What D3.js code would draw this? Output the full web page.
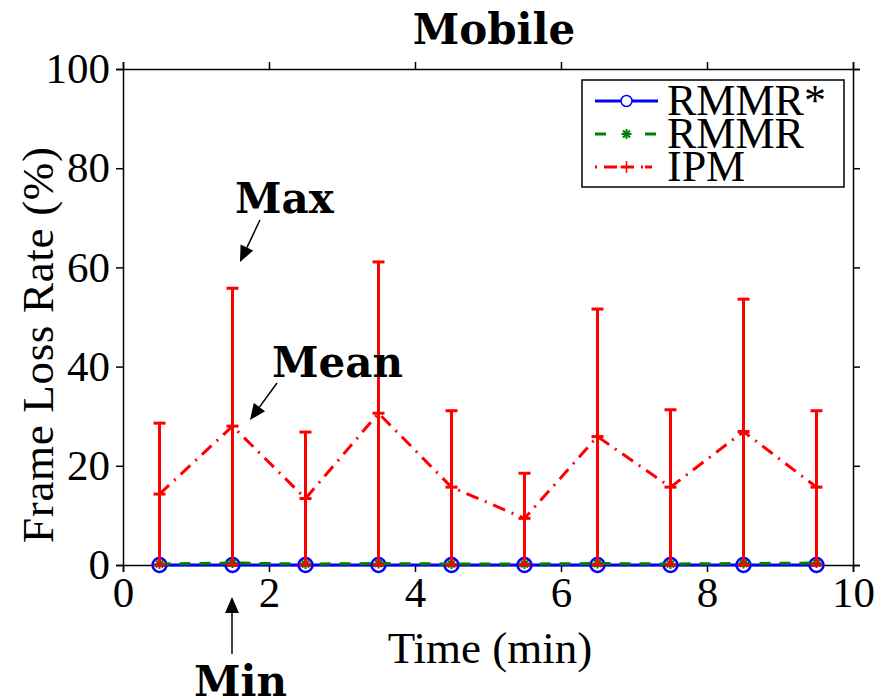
<!DOCTYPE html>
<html>
<head>
<meta charset="utf-8">
<script src="https://d3js.org/d3.v7.min.js"></script>
<style>
  body { margin: 0; background: #fff; }
  svg { display: block; }
  text { fill: #000; }
</style>
</head>
<body>
<div id="chart"></div>
<script>
// time slots (min)
var times = [0.5, 1.5, 2.5, 3.5, 4.5, 5.5, 6.5, 7.5, 8.5, 9.5];
// frame loss rate (%)
var rmmrStar = [0, 0, 0, 0, 0, 0, 0, 0, 0, 0];
var rmmr = [0.2, 0.4, 0.2, 0.3, 0.2, 0.2, 0.3, 0.2, 0.3, 0.4];
var ipmMean = [14.3, 28.0, 13.4, 30.6, 15.7, 9.4, 25.9, 15.7, 26.9, 15.7];
var ipmMax = [28.6, 55.8, 26.8, 61.1, 31.1, 18.5, 51.6, 31.3, 53.6, 31.1];
var ipmMin = [0, 0, 0, 0, 0, 0, 0, 0, 0, 0];
var xTicks = [0, 2, 4, 6, 8, 10];
var yTicks = [0, 20, 40, 60, 80, 100];
var seriesNames = ["RMMR*", "RMMR", "IPM"];

(function () {
  var W = 877, H = 699;
  var pLeft = 123, pRight = 853, pTop = 69, pBottom = 565;
  var serif = "'Liberation Serif', 'Times New Roman', serif";
  var slab = "'DejaVu Serif', serif";

  var svg = d3.select("#chart").append("svg")
    .attr("width", W).attr("height", H);

  var x = d3.scaleLinear().domain([0, 10]).range([pLeft, pRight]);
  var y = d3.scaleLinear().domain([0, 100]).range([pBottom, pTop]);

  // axes, box with outward ticks on all sides
  var axes = svg.append("g");
  axes.append("g").attr("transform", "translate(0," + pBottom + ")")
    .call(d3.axisBottom(x).tickValues(xTicks).tickSize(7).tickPadding(4));
  axes.append("g").attr("transform", "translate(0," + pTop + ")")
    .call(d3.axisTop(x).tickValues(xTicks).tickSize(7).tickFormat(""));
  axes.append("g").attr("transform", "translate(" + pLeft + ",0)")
    .call(d3.axisLeft(y).tickValues(yTicks).tickSize(7).tickPadding(6));
  axes.append("g").attr("transform", "translate(" + pRight + ",0)")
    .call(d3.axisRight(y).tickValues(yTicks).tickSize(7).tickFormat(""));
  axes.selectAll(".domain").attr("stroke", "#000").attr("stroke-width", 1.5);
  axes.selectAll(".tick line").attr("stroke", "#000").attr("stroke-width", 1.5);
  axes.selectAll(".tick text")
    .style("font-family", serif).style("font-size", "43px").attr("fill", "#000");

  svg.append("text")
    .attr("x", (pLeft + pRight) / 2 + 2).attr("y", 663)
    .attr("text-anchor", "middle")
    .style("font-family", serif).style("font-size", "45px")
    .text("Time (min)");

  svg.append("text")
    .attr("transform", "translate(53,345) rotate(-90)")
    .attr("text-anchor", "middle")
    .attr("textLength", 396).attr("lengthAdjust", "spacing")
    .style("font-family", serif).style("font-size", "45px")
    .text("Frame Loss Rate (%)");

  svg.append("text")
    .attr("x", 494).attr("y", 44)
    .attr("text-anchor", "middle")
    .style("font-family", slab).style("font-size", "42px").style("font-weight", "bold")
    .text("Mobile");

  var line = d3.line().x(function (d) { return x(d[0]); }).y(function (d) { return y(d[1]); });

  function asterisk(g, cx, cy, r, color) {
    for (var k = 0; k < 4; k++) {
      var a = k * Math.PI / 4;
      g.append("line")
        .attr("x1", cx - r * Math.cos(a)).attr("y1", cy - r * Math.sin(a))
        .attr("x2", cx + r * Math.cos(a)).attr("y2", cy + r * Math.sin(a))
        .attr("stroke", color).attr("stroke-width", 2);
    }
  }
  function plus(g, cx, cy, r, color, w) {
    g.append("line").attr("x1", cx - r).attr("x2", cx + r).attr("y1", cy).attr("y2", cy)
      .attr("stroke", color).attr("stroke-width", w);
    g.append("line").attr("x1", cx).attr("x2", cx).attr("y1", cy - r).attr("y2", cy + r)
      .attr("stroke", color).attr("stroke-width", w);
  }

  var plot = svg.append("g");

  // RMMR*
  plot.append("path")
    .datum(times.map(function (t, i) { return [t, rmmrStar[i]]; }))
    .attr("d", line).attr("fill", "none").attr("stroke", "#0000ff").attr("stroke-width", 3);
  plot.selectAll("circle.rs").data(times).enter().append("circle")
    .attr("cx", function (d) { return x(d); })
    .attr("cy", function (d, i) { return y(rmmrStar[i]); })
    .attr("r", 7).attr("fill", "none").attr("stroke", "#0000ff").attr("stroke-width", 2.5);

  // RMMR
  plot.append("path")
    .datum(times.map(function (t, i) { return [t, rmmr[i]]; }))
    .attr("d", line).attr("fill", "none").attr("stroke", "#007f00").attr("stroke-width", 3)
    .attr("stroke-dasharray", "11,9");
  times.forEach(function (t, i) { asterisk(plot, x(t), y(rmmr[i]), 5, "#007f00"); });

  // IPM
  plot.append("path")
    .datum(times.map(function (t, i) { return [t, ipmMean[i]]; }))
    .attr("d", line).attr("fill", "none").attr("stroke", "#ff0000").attr("stroke-width", 3)
    .attr("stroke-dasharray", "13,7,2,7");
  var eb = plot.append("g").attr("stroke", "#ff0000").attr("stroke-width", 3);
  times.forEach(function (t, i) {
    var cx = x(t);
    eb.append("line").attr("x1", cx).attr("x2", cx).attr("y1", y(ipmMin[i])).attr("y2", y(ipmMax[i]));
    eb.append("line").attr("x1", cx - 6).attr("x2", cx + 6).attr("y1", y(ipmMax[i])).attr("y2", y(ipmMax[i]));
    eb.append("line").attr("x1", cx - 6).attr("x2", cx + 6).attr("y1", y(ipmMin[i])).attr("y2", y(ipmMin[i]));
    plus(plot, cx, y(ipmMean[i]), 6, "#ff0000", 3);
  });

  // legend
  var lg = svg.append("g");
  lg.append("rect").attr("x", 582).attr("y", 80).attr("width", 262).attr("height", 107)
    .attr("fill", "#fff").attr("stroke", "#000").attr("stroke-width", 1.5);
  var rowsY = [101, 134, 167];
  var lx1 = 595, lx2 = 658, lmid = (lx1 + lx2) / 2;
  lg.append("line").attr("x1", lx1).attr("x2", lx2).attr("y1", rowsY[0]).attr("y2", rowsY[0])
    .attr("stroke", "#0000ff").attr("stroke-width", 3);
  lg.append("circle").attr("cx", lmid).attr("cy", rowsY[0]).attr("r", 5.5)
    .attr("fill", "#fff").attr("stroke", "#0000ff").attr("stroke-width", 1.5);
  lg.append("line").attr("x1", lx1).attr("x2", lx2).attr("y1", rowsY[1]).attr("y2", rowsY[1])
    .attr("stroke", "#007f00").attr("stroke-width", 3).attr("stroke-dasharray", "11,14");
  lg.append("rect").attr("x", lmid - 8).attr("y", rowsY[1] - 8).attr("width", 16).attr("height", 16).attr("fill", "#fff");
  asterisk(lg, lmid, rowsY[1], 5, "#007f00");
  lg.append("line").attr("x1", lx1).attr("x2", lx2).attr("y1", rowsY[2]).attr("y2", rowsY[2])
    .attr("stroke", "#ff0000").attr("stroke-width", 3).attr("stroke-dasharray", "2,7,13,4,13,7,2");
  plus(lg, lmid, rowsY[2], 6, "#ff0000", 1.5);
  seriesNames.forEach(function (n, i) {
    lg.append("text").attr("x", 667).attr("y", rowsY[i] + 14)
      .style("font-family", serif).style("font-size", "44px").text(n);
  });

  // annotations
  function arrow(x1, y1, x2, y2) {
    var a = Math.atan2(y2 - y1, x2 - x1), L = 16, hw = 7;
    var bx = x2 - L * Math.cos(a), by = y2 - L * Math.sin(a);
    svg.append("line").attr("x1", x1).attr("y1", y1).attr("x2", bx).attr("y2", by)
      .attr("stroke", "#000").attr("stroke-width", 1.5);
    svg.append("path").attr("fill", "#000").attr("d",
      "M" + x2 + "," + y2 +
      "L" + (bx + hw * Math.sin(a)) + "," + (by - hw * Math.cos(a)) +
      "L" + (bx - hw * Math.sin(a)) + "," + (by + hw * Math.cos(a)) + "Z");
  }
  function note(tx, ty, s) {
    svg.append("text").attr("x", tx).attr("y", ty)
      .style("font-family", slab).style("font-size", "42px").style("font-weight", "bold").text(s);
  }
  note(235, 213, "Max");
  arrow(260, 220, 240, 262);
  note(272, 377, "Mean");
  arrow(277, 383, 250, 420);
  note(194, 696, "Min");
  arrow(232, 654, 232, 597);
})();
</script>
</body>
</html>
